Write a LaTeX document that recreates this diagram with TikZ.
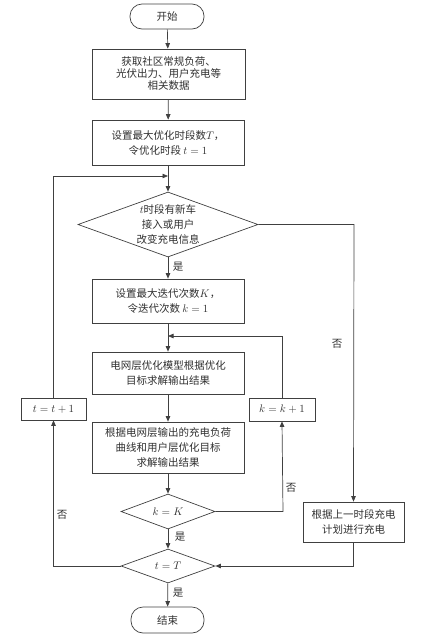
\documentclass[tikz,border=0pt]{standalone}
\usepackage{fontspec}
\setmainfont{Noto Sans CJK SC}
\usetikzlibrary{arrows.meta,shapes.geometric}
\definecolor{ln}{HTML}{404040}
\definecolor{tx}{HTML}{303030}
\tikzset{
  box/.style={draw=ln,line width=0.7pt,rectangle,align=center,inner sep=1pt,text=tx,font=\fontsize{10.5}{15}\selectfont},
  term/.style={box,rounded corners=12pt},
  dec/.style={draw=ln,line width=0.7pt,diamond,align=center,inner sep=0pt,text=tx,font=\fontsize{10.5}{15}\selectfont},
  conn/.style={draw=ln,line width=0.7pt},
  arr/.style={conn,-{Triangle[length=5.5pt,width=4.5pt]}},
  lbl/.style={text=tx,font=\fontsize{10.5}{12}\selectfont,inner sep=0pt},
}
\begin{document}
\begin{tikzpicture}[x=1pt,y=-1pt]
\useasboundingbox (0,0) rectangle (441,638);
\node[term,minimum width=74pt,minimum height=25pt] (start) at (167,16.5) {开始};
\node[box,minimum width=153pt,minimum height=50pt,font=\fontsize{10.5}{12}\selectfont] (b1) at (168.5,74) {获取社区常规负荷、\\光伏出力、用户充电等\\相关数据};
\node[box,minimum width=152pt,minimum height=45pt] (b2) at (168,142.5) {设置最大优化时段数$T$，\\令优化时段 $t=1$};
\node[dec,minimum width=180pt,minimum height=65pt,shape aspect=2.7] (d1) at (168,224.5) {$t$时段有新车\\接入或用户\\改变充电信息};
\node[box,minimum width=152pt,minimum height=44pt] (b3) at (168,301) {设置最大迭代次数$K$，\\令迭代次数 $k=1$};
\node[box,minimum width=152pt,minimum height=42pt] (b4) at (168,373) {电网层优化模型根据优化\\目标求解输出结果};
\node[box,minimum width=65pt,minimum height=22pt] (tinc) at (53.5,409) {$t=t+1$};
\node[box,minimum width=66pt,minimum height=23pt] (kinc) at (282,409.5) {$k=k+1$};
\node[box,minimum width=152pt,minimum height=51pt] (b5) at (168,447.5) {根据电网层输出的充电负荷\\曲线和用户层优化目标\\求解输出结果};
\node[dec,minimum width=94pt,minimum height=35pt,shape aspect=2.7] (d2) at (168,511.5) {$k=K$};
\node[dec,minimum width=94pt,minimum height=34pt,shape aspect=2.7] (d3) at (168,566) {$t=T$};
\node[box,minimum width=101pt,minimum height=40pt] (rb) at (353.5,522) {根据上一时段充电\\计划进行充电};
\node[term,minimum width=73pt,minimum height=26pt] (end) at (167.5,620) {结束};
\coordinate (j1) at (168,176);
\coordinate (j2) at (168,336);
\coordinate (cr) at (354,224.5);
\coordinate (ck) at (283,511.5);
\coordinate (ct) at (53.5,566);
\draw[arr] (start) -- (b1);
\draw[arr] (b1) -- (b2);
\draw[arr] (b2) -- (d1);
\draw[arr] (tinc.north) |- (j1);
\draw[arr] (d1) -- (b3);
\draw[arr] (b3) -- (b4);
\draw[arr] (kinc.north) |- (j2);
\draw[arr] (b4) -- (b5);
\draw[arr] (b5) -- (d2);
\draw[arr] (d2.east) -- (ck) -- (kinc.south);
\draw[arr] (d2) -- (d3);
\draw[arr] (d3.west) -- (ct) -- (tinc.south);
\draw[arr] (d1.east) -- (cr) -- (rb.north);
\draw[arr] (rb.south) |- (d3.east);
\draw[arr] (d3) -- (end);
\node[lbl] (l1) at (178,267) {是};
\node[lbl] (l2) at (337,344) {否};
\node[lbl] (l3) at (291,488) {否};
\node[lbl] (l4) at (180,537) {是};
\node[lbl] (l5) at (62,515) {否};
\node[lbl] (l6) at (178,593) {是};
\end{tikzpicture}
\end{document}
